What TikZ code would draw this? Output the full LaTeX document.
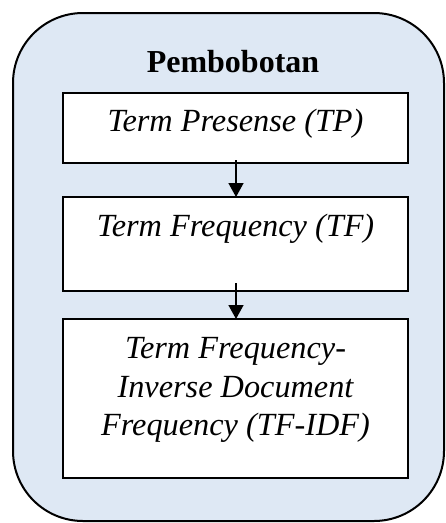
\documentclass[tikz,border=0pt]{standalone}
\usepackage{fontspec}
\setmainfont{Liberation Serif}
\usetikzlibrary{arrows.meta}
\definecolor{panelblue}{HTML}{DEE8F4}
\tikzset{
  panel/.style={draw=black, line width=2pt, fill=panelblue, rounded corners=70pt},
  stepbox/.style={draw=black, line width=1.8pt, fill=white},
  lbl/.style={font=\fontsize{32.3}{40}\selectfont\itshape, anchor=base},
  flow/.style={line width=1.5pt, -{Triangle[width=15pt,length=14pt]}},
}
\begin{document}
\begin{tikzpicture}[x=1pt,y=-1pt]
\useasboundingbox (0,0) rectangle (446,523);
% outer panel
\draw[panel] (13,13) rectangle (444,521);
\node[font=\fontsize{32}{38}\selectfont\bfseries, anchor=base] (title) at (233,72) {Pembobotan};
% step boxes
\draw[stepbox] (63,93) rectangle (408,163);
\coordinate (tpb) at (236,160);
\coordinate (tft) at (236,197);
\node[lbl] (tp) at (235.5,131) {Term Presense (TP)};
\draw[stepbox] (63,197) rectangle (408,291);
\coordinate (tfb) at (236,283);
\coordinate (idft) at (236,319);
\node[lbl] (tf) at (235.5,236) {Term Frequency (TF)};
\draw[stepbox] (63,319) rectangle (408,478);
\node[lbl] (idf1) at (235.5,358) {Term Frequency-};
\node[lbl] (idf2) at (235.5,397) {Inverse Document};
\node[lbl] (idf3) at (235.5,435) {Frequency (TF-IDF)};
% arrows
\draw[flow] (tpb) -- (tft);
\draw[flow] (tfb) -- (idft);
\end{tikzpicture}
\end{document}
